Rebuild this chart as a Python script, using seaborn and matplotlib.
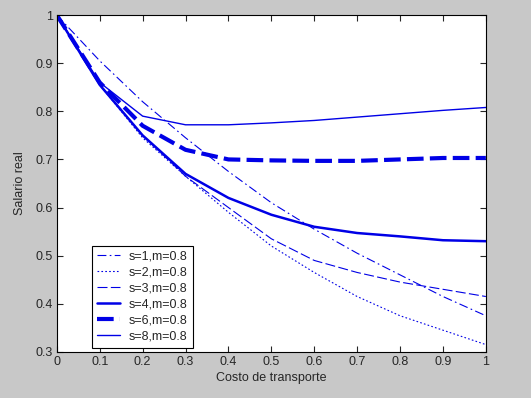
import numpy as np
import pandas as pd
import matplotlib
matplotlib.use("Agg")
import matplotlib.pyplot as plt
import seaborn as sns

# Datos
costo = [0, 0.1, 0.2, 0.3, 0.4, 0.5, 0.6, 0.7, 0.8, 0.9, 1.0]
s1 = [1, 0.905, 0.82, 0.745, 0.675, 0.61, 0.555, 0.505, 0.46, 0.415, 0.375]
s2 = [1, 0.855, 0.745, 0.665, 0.59, 0.52, 0.465, 0.415, 0.375, 0.345, 0.315]
s3 = [1, 0.855, 0.75, 0.665, 0.6, 0.535, 0.49, 0.465, 0.445, 0.43, 0.415]
s4 = [1, 0.855, 0.75, 0.67, 0.62, 0.585, 0.56, 0.547, 0.54, 0.532, 0.53]
s6 = [1, 0.86, 0.77, 0.72, 0.70, 0.698, 0.697, 0.697, 0.70, 0.703, 0.703]
s8 = [1, 0.86, 0.79, 0.772, 0.772, 0.776, 0.781, 0.788, 0.795, 0.802, 0.808]
labels = ['s=1,m=0.8', 's=2,m=0.8', 's=3,m=0.8', 's=4,m=0.8', 's=6,m=0.8', 's=8,m=0.8']

sns.set_style("ticks")
plt.rcParams['font.family'] = ['Liberation Sans', 'DejaVu Sans']
plt.rcParams['xtick.direction'] = 'in'
plt.rcParams['ytick.direction'] = 'in'

fig = plt.figure(figsize=(5.31, 3.98), dpi=100, facecolor='#c8c8c8')
ax = fig.add_axes([0.107, 0.116, 0.808, 0.846])
ax.set_facecolor('white')

series = [s1, s2, s3, s4, s6, s8]
styles = [
    dict(dashes=(8, 3, 1.5, 3), lw=0.8),
    dict(dashes=(1.5, 2), lw=0.8),
    dict(dashes=(9, 3), lw=0.8),
    dict(dashes=(), lw=1.8),
    dict(dashes=(4, 1.5), lw=3.0),
    dict(dashes=(), lw=1.0),
]
for vals, lab, st in zip(series, labels, styles):
    df = pd.DataFrame({'x': costo, 'y': vals})
    sns.lineplot(data=df, x='x', y='y', ax=ax, color='#0000e6',
                 lw=st['lw'], label=lab)
    l = ax.get_lines()[-1]
    if st['dashes']:
        l.set_dashes(st['dashes'])

ax.set_xlim(0, 1)
ax.set_ylim(0.3, 1)
xt = np.round(np.arange(0, 1.01, 0.1), 1)
yt = np.round(np.arange(0.3, 1.01, 0.1), 1)
ax.set_xticks(xt)
ax.set_yticks(yt)
ax.set_xticklabels(['%g' % v for v in xt], fontsize=9)
ax.set_yticklabels(['%g' % v for v in yt], fontsize=9)
ax.tick_params(top=True, right=True, length=4, width=0.8, pad=3)
for sp in ax.spines.values():
    sp.set_color('black')
    sp.set_linewidth(0.8)
ax.set_xlabel('Costo de transporte', fontsize=9, labelpad=3)
ax.set_ylabel('Salario real', fontsize=9, labelpad=7)

leg = ax.legend(loc='lower left', bbox_to_anchor=(0.081, 0.012), borderaxespad=0,
                fontsize=9, frameon=True, fancybox=False, handlelength=1.85,
                labelspacing=0.32, borderpad=0.4, handletextpad=0.75)
leg.get_frame().set_edgecolor('black')
leg.get_frame().set_linewidth(0.8)
leg.get_frame().set_alpha(1)

fig.savefig('out.png', dpi=100, facecolor=fig.get_facecolor())
